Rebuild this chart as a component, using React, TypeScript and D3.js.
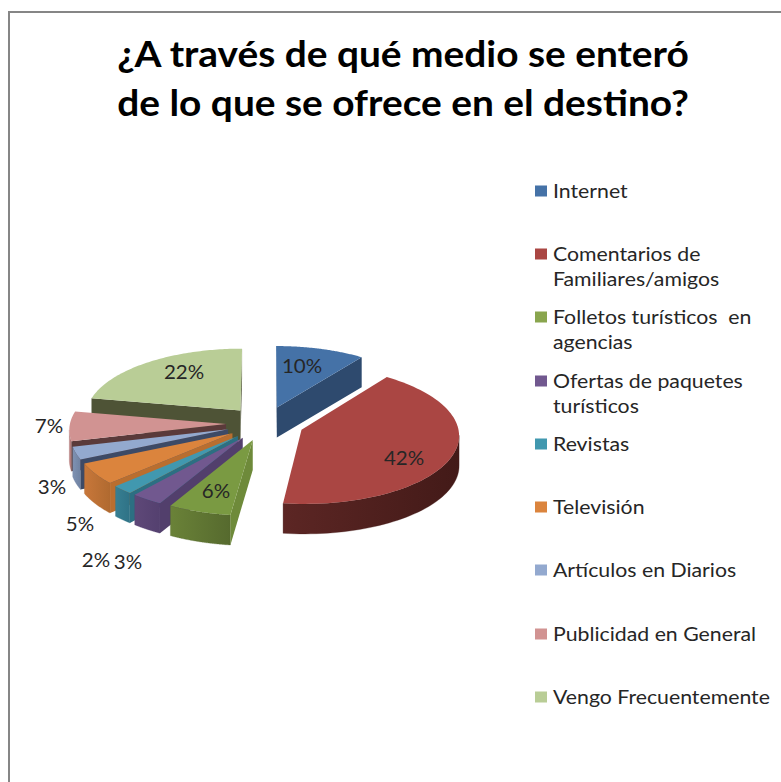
import React from "react";
import * as d3 from "d3";

const categories = ["Internet","Comentarios de Familiares/amigos","Folletos turísticos en agencias","Ofertas de paquetes turísticos","Revistas","Televisión","Artículos en Diarios","Publicidad en General","Vengo Frecuentemente"];
const values = [10, 42, 6, 3, 2, 5, 3, 7, 22];
const legendLines = [["Internet"],["Comentarios de","Familiares/amigos"],["Folletos turísticos  en","agencias"],["Ofertas de paquetes","turísticos"],["Revistas"],["Televisión"],["Artículos en Diarios"],["Publicidad en General"],["Vengo Frecuentemente"]];
const titleLines = ["¿A través de qué medio se enteró","de lo que se ofrece en el destino?"];

const topColors = ["#4572A7","#AA4643","#7A9A42","#71588F","#4198AF","#DB843D","#93A9CF","#D19392","#B9CD96"];
const legendColors = ["#4572A7","#AA4643","#89A54E","#71588F","#4198AF","#DB843D","#93A9CF","#D19392","#B9CD96"];
const rimLight = ["#2E4A6E","#5C2624","#6A8238","#5E4878","#377F92","#C8773A","#7F92B2","#B98080","#8A9A70"];
const rimDark = ["#2E4A6E","#431A18","#566A2E","#54406F","#2F7286","#B06A30","#6F82A2","#B07878","#8A9A70"];
const faceColors = ["#2E4A6E","#431A18","#6E8A3A","#523F6C","#2C6F82","#B96E2F","#3D4A66","#5A3A3A","#4E5336"];
const labelPos: [number, number][] = [[302,367],[404,459],[216,492],[128,563],[96,561],[80,525],[52,488],[49,427],[184,373]];
const legendY = [191,254,317,381,444,507,570,634,697];

const CX = 265, CY = 423.5, R = 156, RY = 68, K = 0.07, DEPTH = 30, EXPLODE = 0.25;

type P = [number, number];
const project = (u: number, v: number, down = 0): P => {
  const s = 1 / (1 + K * v);
  return [CX + R * u * s, CY - RY * v * s + down];
};

const pieData = d3.pie<number>().sort(null).value(d => d)(values);
const poly = d3.line<P>().x(d => d[0]).y(d => d[1]);

function sliceShapes(i: number) {
  const a = pieData[i].startAngle, b = pieData[i].endAngle, m = (a + b) / 2;
  const eu = EXPLODE * Math.sin(m), ev = EXPLODE * Math.cos(m);
  const at = (t: number, down = 0) => project(eu + Math.sin(t), ev + Math.cos(t), down);
  const angles = d3.range(0, 81).map(k => a + (b - a) * k / 80);
  const apex = project(eu, ev), apexD = project(eu, ev, DEPTH);
  const rimTop = angles.map(t => at(t));
  const top = (poly([apex, ...rimTop]) || "") + "Z";
  // rim: only the run of arc that travels right-to-left on screen faces the viewer
  const vis = angles.filter((t, k) => k < 80 && at(angles[k + 1])[0] < at(t)[0]);
  let rim = "", xs: [number, number] = [0, 0];
  if (vis.length) {
    const run = [...vis, vis[vis.length - 1] + (b - a) / 80];
    rim = (poly([...run.map(t => at(t)), ...run.slice().reverse().map(t => at(t, DEPTH))]) || "") + "Z";
    xs = [at(run[0])[0], at(run[run.length - 1])[0]];
  }
  const face = (t: number) => (poly([apex, at(t), at(t, DEPTH), apexD]) || "") + "Z";
  const faces: string[] = [];
  if (at(a)[0] < apex[0] - 0.5) faces.push(face(a));
  if (at(b)[0] > apex[0] + 0.5) faces.push(face(b));
  return { top, rim, xs, faces, depthKey: Math.cos(m) };
}

const order = d3.range(values.length).sort((p, q) => sliceShapes(q).depthKey - sliceShapes(p).depthKey);
const font = "Lato, Carlito, 'Open Sans', sans-serif";

export default function App() {
  return (
    <svg width={781} height={782} style={{ position: "absolute", left: 0, top: 0, background: "#fff" }}>
      <defs>
        {values.map((_, i) => {
          const s = sliceShapes(i);
          return (
            <linearGradient key={i} id={`rim${i}`} gradientUnits="userSpaceOnUse" x1={s.xs[1]} x2={s.xs[0]} y1={0} y2={0}>
              <stop offset="0" stopColor={rimLight[i]} />
              <stop offset="1" stopColor={rimDark[i]} />
            </linearGradient>
          );
        })}
      </defs>
      <path d="M781,12 H9 V782" fill="none" stroke="#868686" strokeWidth={2} />
      {titleLines.map((t, i) => (
        <text key={t} transform={`translate(403,${i === 0 ? 67 : 116}) scale(1.05,1)`} textAnchor="middle" fontFamily={font} fontWeight={700} fontSize={37} fill="#000">{t}</text>
      ))}
      {order.map(i => {
        const s = sliceShapes(i);
        return (
          <g key={i} aria-label={categories[i]}>
            {s.rim && <path d={s.rim} fill={`url(#rim${i})`} stroke={rimDark[i]} strokeWidth={0.3} />}
            {s.faces.map((d, k) => <path key={k} d={d} fill={faceColors[i]} />)}
            <path d={s.top} fill={topColors[i]} />
          </g>
        );
      })}
      {values.map((v, i) => (
        <text key={i} transform={`translate(${labelPos[i][0]},${labelPos[i][1] + 6}) scale(1.08,1)`} textAnchor="middle" fontFamily={font} fontSize={19} fill="#262626">{v}%</text>
      ))}
      {legendLines.map((lines, i) => (
        <g key={i}>
          <rect x={535} y={legendY[i] - 5.5} width={12} height={11} fill={legendColors[i]} />
          {lines.map((l, k) => (
            <text key={k} transform={`translate(553,${legendY[i] + 6.5 + k * 25}) scale(1.12,1)`} fontFamily={font} fontSize={19} fill="#262626" xmlSpace="preserve" style={{ whiteSpace: "pre" }}>{l}</text>
          ))}
        </g>
      ))}
    </svg>
  );
}
